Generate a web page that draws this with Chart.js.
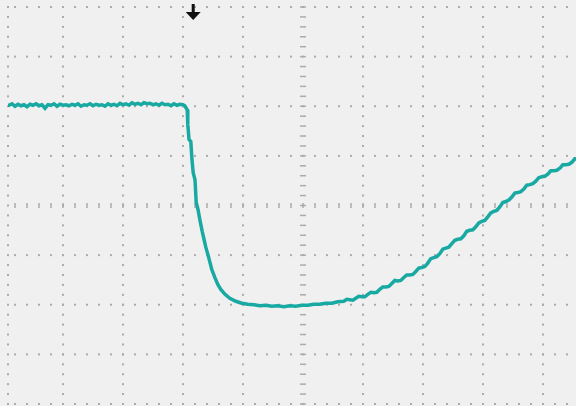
<!DOCTYPE html>
<html><head><meta charset="utf-8">
<script src="https://cdn.jsdelivr.net/npm/chart.js@4.4.1/dist/chart.umd.min.js"></script>
<style>html,body{margin:0;padding:0;background:#f0f0f0;overflow:hidden}</style>
</head><body>
<canvas id="c" width="576" height="406"></canvas>
<script>
// Time in horizontal divisions, voltage in vertical divisions
const timeDiv = [
  0.05,0.10,0.15,0.20,0.25,0.30,0.35,0.40,0.45,0.50,0.55,0.60,0.65,0.70,0.75,0.80,0.85,0.90,0.95,1.00,
  1.05,1.10,1.15,1.20,1.25,1.30,1.35,1.40,1.45,1.50,1.55,1.60,1.65,1.70,1.75,1.80,1.85,1.90,1.95,2.00,
  2.05,2.10,2.15,2.20,2.25,2.30,2.35,2.40,2.45,2.50,2.55,2.60,2.65,2.70,2.75,2.80,2.85,2.90,2.95,3.00,
  3.03,3.07,3.08,3.10,3.13,3.15,3.17,3.20,3.22,3.25,3.28,3.32,3.35,3.38,3.42,3.45,3.48,
  3.53,3.58,3.63,3.70,3.78,3.88,3.98,4.08,
  4.18,4.28,4.38,4.48,4.58,4.68,4.78,4.88,4.98,5.08,5.18,5.28,5.38,5.48,5.58,
  5.68,5.73,5.78,5.83,5.88,5.93,5.98,6.03,6.08,6.13,6.18,6.23,6.28,6.33,6.38,6.43,6.48,6.53,6.58,6.63,
  6.68,6.73,6.78,6.83,6.88,6.93,6.98,7.03,7.08,7.13,7.18,7.23,7.28,7.33,7.38,7.43,7.48,7.53,7.58,7.63,
  7.68,7.73,7.78,7.83,7.88,7.93,7.98,8.03,8.08,8.13,8.18,8.23,8.28,8.33,8.38,8.43,8.48,8.53,8.58,8.63,
  8.68,8.73,8.78,8.83,8.88,8.93,8.98,9.03,9.08,9.13,9.18,9.23,9.28,9.33,9.38,9.43,9.48,9.53,9.58
];
const voltDiv = [
  2.02,2.02,2.05,2.00,2.04,2.01,2.03,1.99,2.04,2.02,2.05,2.01,2.03,1.96,2.03,2.02,2.05,2.00,2.04,2.02,
  2.03,2.01,2.04,2.02,2.05,2.00,2.03,2.02,2.05,2.01,2.04,2.02,2.03,2.00,2.05,2.02,2.04,2.01,2.06,2.03,
  2.05,2.02,2.07,2.04,2.06,2.03,2.07,2.05,2.06,2.03,2.05,2.02,2.06,2.03,2.04,2.01,2.05,2.02,2.04,2.03,
  2.01,1.93,1.63,1.33,1.29,0.92,0.66,0.52,0.06,-0.08,-0.28,-0.52,-0.68,-0.84,-1.01,-1.15,-1.29,
  -1.45,-1.59,-1.69,-1.79,-1.87,-1.93,-1.97,-1.99,
  -2.00,-2.02,-2.01,-2.03,-2.02,-2.04,-2.02,-2.03,-2.01,-2.01,-1.99,-1.99,-1.97,-1.97,-1.94,
  -1.93,-1.89,-1.90,-1.91,-1.87,-1.83,-1.84,-1.84,-1.79,-1.75,-1.76,-1.75,-1.69,-1.64,-1.64,-1.63,-1.57,-1.51,-1.52,-1.51,
  -1.45,-1.40,-1.40,-1.39,-1.33,-1.26,-1.25,-1.23,-1.16,-1.07,-1.05,-1.03,-0.97,-0.88,-0.86,-0.84,-0.77,-0.70,-0.68,-0.67,
  -0.61,-0.52,-0.50,-0.49,-0.43,-0.35,-0.32,-0.30,-0.23,-0.15,-0.12,-0.10,-0.03,0.06,0.08,0.11,0.17,0.25,0.26,0.28,
  0.33,0.41,0.42,0.44,0.49,0.56,0.58,0.59,0.63,0.70,0.70,0.71,0.75,0.82,0.82,0.83,0.87,0.94,0.94
];
const xGridDiv = [1,2,3,4,5,6,7,8,9];
const yGridDiv = [-4,-3,-2,-1,0,1,2,3,4];
const triggerDiv = 3.17;

const graticule = {
  id: 'graticule',
  beforeDraw(chart) {
    const ctx = chart.ctx;
    ctx.save();
    ctx.fillStyle = '#f0f0f0';
    ctx.fillRect(0, 0, chart.width, chart.height);
    ctx.restore();
  },
  beforeDatasetsDraw(chart) {
    const {ctx, chartArea: a, scales: {x, y}} = chart;
    ctx.save();
    ctx.fillStyle = '#ababab';
    const cols = [a.left].concat(xGridDiv.map(d => x.getPixelForValue(d)));
    cols.forEach((px, i) => {
      const center = (i > 0 && xGridDiv[i - 1] === 5);
      for (let k = -20; k <= 20; k++) {
        const py = y.getPixelForValue(k / 5);
        if (center) ctx.fillRect(px - 3, py - 0.75, 6, 1.5);
        else ctx.fillRect(px - 1, py - 1, 2, 2);
      }
    });
    yGridDiv.forEach(v => {
      const py = y.getPixelForValue(v);
      for (let k = 0; k <= 50; k++) {
        const px = x.getPixelForValue(k / 5);
        if (px < a.left - 1 || px > a.right + 1) continue;
        if (v === 0) ctx.fillRect(px - 0.75, py - 2.5, 1.5, 5);
        else ctx.fillRect(px - 1, py - 1, 2, 2);
      }
    });
    ctx.restore();
  },
  afterDatasetsDraw(chart) {
    const {ctx, scales: {x}} = chart;
    const px = x.getPixelForValue(triggerDiv);
    ctx.save();
    ctx.fillStyle = '#111';
    ctx.fillRect(px - 1.5, 4, 3, 10);
    ctx.beginPath();
    ctx.moveTo(px - 7.5, 12);
    ctx.lineTo(px + 7.5, 12);
    ctx.lineTo(px, 20);
    ctx.closePath();
    ctx.fill();
    ctx.restore();
  }
};

new Chart(document.getElementById('c'), {
  type: 'line',
  data: {
    datasets: [{
      data: timeDiv.map((t, i) => ({x: t, y: voltDiv[i]})),
      borderColor: '#18a9a3',
      borderWidth: 3.5,
      pointRadius: 0,
      tension: 0,
      borderJoinStyle: 'miter',
      fill: false
    }]
  },
  options: {
    responsive: false,
    devicePixelRatio: 1,
    animation: false,
    layout: {padding: {left: 8, top: 7, right: 0, bottom: 2}},
    plugins: {legend: {display: false}, tooltip: {enabled: false}},
    scales: {
      x: {type: 'linear', min: 5/60, max: 573/60, display: false},
      y: {type: 'linear', min: -4, max: 4, display: false}
    }
  },
  plugins: [graticule]
});
</script>
</body></html>
